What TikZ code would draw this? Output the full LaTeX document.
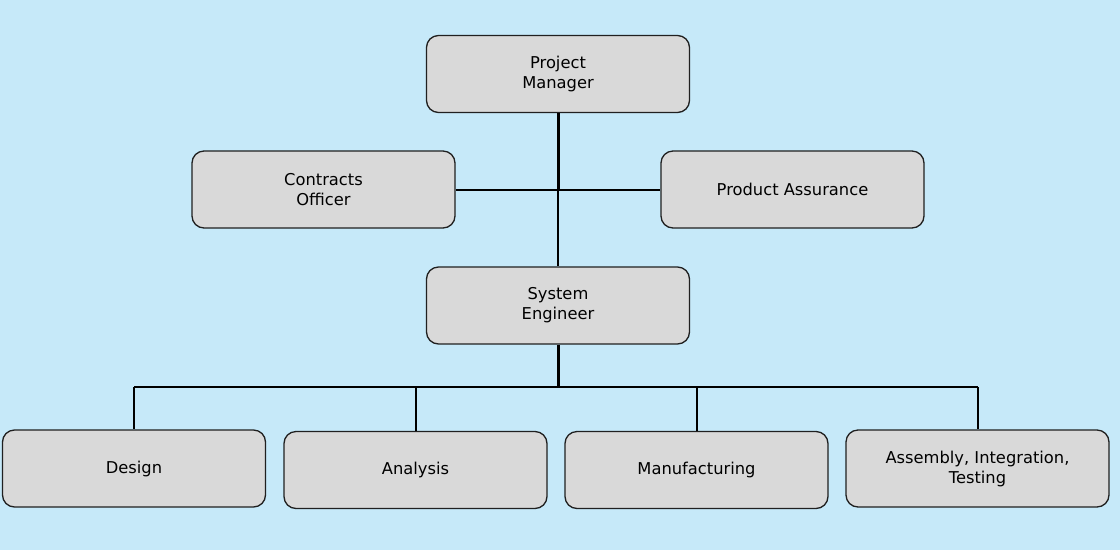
\documentclass[tikz,border=0pt]{standalone}
\usepackage{fontspec}
\setmainfont{DejaVu Sans}
\definecolor{bgblue}{HTML}{C6E9F9}
\definecolor{boxgray}{HTML}{D9D9D9}
\definecolor{boxline}{HTML}{202020}
\begin{document}
\begin{tikzpicture}[x=1pt,y=-1pt,
  orgbox/.style={draw=boxline, line width=1.3pt, fill=boxgray, rounded corners=12pt,
    minimum width=263pt, minimum height=77pt, inner sep=0pt, align=center,
    font=\fontsize{16.3}{20}\selectfont, text=black},
  link/.style={draw=black, line width=2pt},
  trunk/.style={draw=black, line width=3pt}]
\fill[bgblue] (0,0) rectangle (1120,550);
\useasboundingbox (0,0) rectangle (1120,550);
\node[orgbox] (pm) at (558,74) {Project\\Manager};
\node[orgbox] (co) at (323.5,189.5) {Contracts\\Officer};
\node[orgbox] (pa) at (792.5,189.5) {Product Assurance};
\node[orgbox] (se) at (558,305.5) {System\\Engineer};
\node[orgbox] (de) at (134,468.5) {Design};
\node[orgbox] (an) at (415.5,470) {Analysis};
\node[orgbox] (ma) at (696.5,470) {Manufacturing};
\node[orgbox] (ait) at (977.5,468.5) {Assembly, Integration,\\Testing};
\coordinate (j1) at (558,190);
\coordinate (bus) at (558,387);
\draw[trunk] (pm.south) -- (j1);
\draw[link] (j1) -- (se.north);
\draw[link] (co.east) -- (pa.west);
\draw[trunk] (se.south) -- (bus);
\draw[link] (de.north |- bus) -- (ait.north |- bus);
\draw[link] (de.north |- bus) -- (de.north);
\draw[link] (an.north |- bus) -- (an.north);
\draw[link] (ma.north |- bus) -- (ma.north);
\draw[link] (ait.north |- bus) -- (ait.north);
\end{tikzpicture}
\end{document}
